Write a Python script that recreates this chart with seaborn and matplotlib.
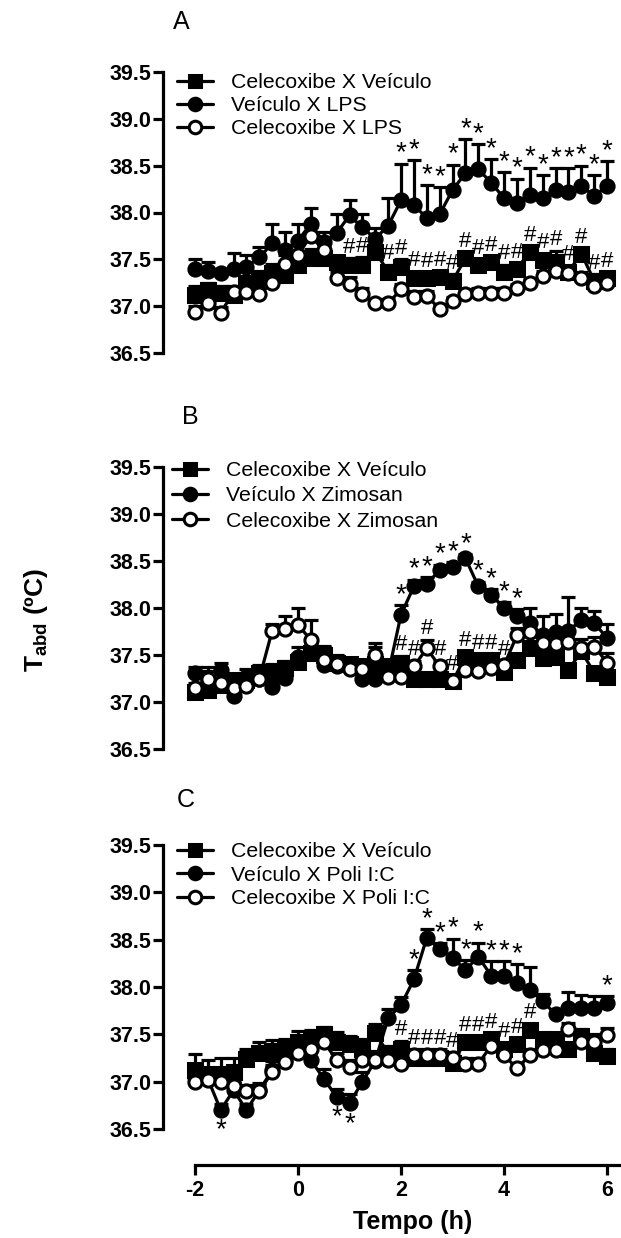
import numpy as np
import matplotlib
matplotlib.use("Agg")
import matplotlib.pyplot as plt
import seaborn as sns

sns.set_style("ticks")
plt.rcParams['font.family'] = ['Liberation Sans', 'DejaVu Sans']
plt.rcParams['mathtext.fontset'] = 'custom'
plt.rcParams['mathtext.bf'] = 'Liberation Sans:bold'
plt.rcParams['mathtext.rm'] = 'Liberation Sans'
for key in ['text.color', 'axes.labelcolor', 'xtick.color', 'ytick.color', 'axes.edgecolor']:
    plt.rcParams[key] = 'black'

# time points (h)
tempo = [-2.0, -1.75, -1.5, -1.25, -1.0, -0.75, -0.5, -0.25, 0.0, 0.25, 0.5, 0.75,
         1.0, 1.25, 1.5, 1.75, 2.0, 2.25, 2.5, 2.75, 3.0, 3.25, 3.5, 3.75,
         4.0, 4.25, 4.5, 4.75, 5.0, 5.25, 5.5, 5.75, 6.0]

# ---------------- Panel A (LPS) ---------------- #
A_sq = [37.12, 37.17, 37.14, 37.12, 37.24, 37.28, 37.35, 37.33, 37.44, 37.51, 37.51, 37.47,
        37.44, 37.44, 37.58, 37.37, 37.42, 37.30, 37.30, 37.31, 37.27, 37.51, 37.44, 37.47,
        37.37, 37.40, 37.58, 37.49, 37.47, 37.37, 37.56, 37.27, 37.30]
A_sq_err = [0.09, 0.08, 0.07, 0.08, 0.08, 0.10, 0.10, 0.08, 0.09, 0.10, 0.08, 0.07,
            0.07, 0.08, 0.10, 0.07, 0.08, 0.07, 0.06, 0.06, 0.07, 0.06, 0.06, 0.06,
            0.07, 0.06, 0.06, 0.07, 0.12, 0.06, 0.06, 0.07, 0.06]
A_fc = [37.40, 37.38, 37.35, 37.40, 37.42, 37.52, 37.67, 37.60, 37.70, 37.88, 37.68, 37.78,
        37.97, 37.84, 37.72, 37.86, 38.13, 38.08, 37.94, 37.98, 38.24, 38.42, 38.46, 38.32,
        38.15, 38.10, 38.19, 38.15, 38.24, 38.22, 38.28, 38.18, 38.28]
A_fc_err = [0.10, 0.09, 0.05, 0.17, 0.13, 0.11, 0.21, 0.19, 0.18, 0.17, 0.11, 0.20,
            0.16, 0.14, 0.11, 0.30, 0.39, 0.48, 0.35, 0.29, 0.27, 0.36, 0.27, 0.25,
            0.28, 0.26, 0.29, 0.25, 0.23, 0.25, 0.22, 0.22, 0.27]
A_oc = [36.94, 37.03, 36.93, 37.15, 37.15, 37.13, 37.25, 37.45, 37.55, 37.75, 37.60, 37.30,
        37.24, 37.13, 37.03, 37.03, 37.18, 37.10, 37.11, 36.97, 37.05, 37.13, 37.14, 37.14,
        37.14, 37.19, 37.25, 37.32, 37.38, 37.35, 37.30, 37.21, 37.25]
A_oc_err = [0.06, 0.05, 0.06, 0.07, 0.06, 0.06, 0.10, 0.10, 0.12, 0.10, 0.10, 0.07,
            0.07, 0.06, 0.05, 0.05, 0.06, 0.06, 0.05, 0.05, 0.05, 0.05, 0.05, 0.05,
            0.05, 0.05, 0.05, 0.06, 0.06, 0.06, 0.06, 0.06, 0.06]
A_star_up = [2.0, 2.25, 2.5, 2.75, 3.0, 3.25, 3.5, 3.75, 4.0, 4.25, 4.5, 4.75,
             5.0, 5.25, 5.5, 5.75, 6.0]
A_star_down = []
A_hash = [1.0, 1.25, 1.75, 2.0, 2.25, 2.5, 2.75, 3.0, 3.25, 3.5, 3.75, 4.0, 4.25,
          4.5, 4.75, 5.0, 5.25, 5.5, 5.75, 6.0]

# ---------------- Panel B (Zimosan) ---------------- #
B_sq = [37.11, 37.13, 37.18, 37.23, 37.23, 37.31, 37.32, 37.36, 37.43, 37.52, 37.50, 37.42,
        37.40, 37.38, 37.40, 37.38, 37.42, 37.25, 37.25, 37.25, 37.22, 37.48, 37.45, 37.45,
        37.32, 37.45, 37.57, 37.47, 37.48, 37.34, 37.54, 37.31, 37.27]
B_sq_err = [0.06, 0.06, 0.07, 0.07, 0.07, 0.08, 0.08, 0.08, 0.08, 0.08, 0.08, 0.07,
            0.07, 0.07, 0.08, 0.07, 0.07, 0.06, 0.06, 0.06, 0.06, 0.06, 0.06, 0.06,
            0.06, 0.06, 0.06, 0.06, 0.06, 0.06, 0.06, 0.06, 0.06]
B_fc = [37.31, 37.22, 37.34, 37.06, 37.27, 37.25, 37.16, 37.26, 37.48, 37.55, 37.39, 37.38,
        37.36, 37.25, 37.25, 37.30, 37.93, 38.23, 38.26, 38.40, 38.44, 38.53, 38.23, 38.14,
        38.00, 37.91, 37.84, 37.71, 37.74, 37.76, 37.87, 37.84, 37.68]
B_fc_err = [0.06, 0.15, 0.08, 0.10, 0.08, 0.08, 0.10, 0.12, 0.10, 0.08, 0.08, 0.07,
            0.07, 0.08, 0.38, 0.10, 0.10, 0.07, 0.07, 0.06, 0.05, 0.04, 0.05, 0.06,
            0.06, 0.08, 0.16, 0.20, 0.20, 0.36, 0.13, 0.13, 0.15]
B_oc = [37.15, 37.25, 37.20, 37.15, 37.17, 37.25, 37.76, 37.78, 37.82, 37.66, 37.45, 37.40,
        37.35, 37.35, 37.50, 37.27, 37.27, 37.38, 37.57, 37.38, 37.22, 37.34, 37.33, 37.36,
        37.39, 37.71, 37.75, 37.63, 37.62, 37.64, 37.57, 37.59, 37.42]
B_oc_err = [0.05, 0.08, 0.06, 0.06, 0.07, 0.08, 0.07, 0.13, 0.18, 0.21, 0.15, 0.10,
            0.08, 0.06, 0.08, 0.06, 0.06, 0.06, 0.09, 0.06, 0.05, 0.05, 0.05, 0.05,
            0.05, 0.08, 0.08, 0.10, 0.10, 0.12, 0.10, 0.10, 0.10]
B_star_up = [2.0, 2.25, 2.5, 2.75, 3.0, 3.25, 3.5, 3.75, 4.0, 4.25]
B_star_down = []
B_hash = [2.0, 2.25, 2.5, 2.75, 3.0, 3.25, 3.5, 3.75, 4.0]

# ---------------- Panel C (Poli I:C) ---------------- #
C_sq = [37.12, 37.08, 37.08, 37.10, 37.24, 37.30, 37.32, 37.35, 37.42, 37.45, 37.50, 37.42,
        37.40, 37.35, 37.51, 37.30, 37.35, 37.25, 37.25, 37.25, 37.20, 37.42, 37.42, 37.45,
        37.35, 37.40, 37.55, 37.45, 37.45, 37.35, 37.48, 37.30, 37.27]
C_sq_err = [0.17, 0.15, 0.17, 0.15, 0.10, 0.12, 0.12, 0.10, 0.12, 0.10, 0.08, 0.10,
            0.08, 0.10, 0.10, 0.08, 0.08, 0.06, 0.06, 0.06, 0.06, 0.06, 0.06, 0.06,
            0.06, 0.06, 0.06, 0.06, 0.06, 0.06, 0.08, 0.08, 0.08]
C_fc = [37.05, 37.03, 36.70, 36.91, 36.70, 36.91, 37.12, 37.23, 37.33, 37.23, 37.03, 36.84,
        36.77, 37.00, 37.22, 37.67, 37.81, 38.08, 38.52, 38.40, 38.31, 38.18, 38.32, 38.12,
        38.12, 38.04, 37.97, 37.85, 37.71, 37.78, 37.78, 37.78, 37.83]
C_fc_err = [0.10, 0.08, 0.06, 0.08, 0.06, 0.08, 0.10, 0.10, 0.12, 0.12, 0.10, 0.08,
            0.10, 0.10, 0.10, 0.10, 0.08, 0.10, 0.09, 0.06, 0.20, 0.10, 0.15, 0.15,
            0.15, 0.20, 0.24, 0.08, 0.05, 0.17, 0.14, 0.12, 0.07]
C_oc = [37.00, 37.02, 37.00, 36.95, 36.90, 36.90, 37.10, 37.21, 37.30, 37.35, 37.42, 37.23,
        37.16, 37.23, 37.23, 37.23, 37.19, 37.28, 37.28, 37.28, 37.25, 37.19, 37.19, 37.38,
        37.28, 37.14, 37.28, 37.33, 37.33, 37.56, 37.42, 37.42, 37.49]
C_oc_err = [0.06, 0.06, 0.06, 0.06, 0.06, 0.06, 0.08, 0.08, 0.08, 0.08, 0.08, 0.07,
            0.07, 0.06, 0.06, 0.06, 0.06, 0.06, 0.06, 0.06, 0.06, 0.06, 0.06, 0.06,
            0.06, 0.06, 0.06, 0.06, 0.06, 0.06, 0.08, 0.08, 0.08]
C_star_up = [2.25, 2.5, 2.75, 3.0, 3.25, 3.5, 3.75, 4.0, 4.25, 6.0]
C_star_down = [-1.5, 0.75, 1.0]
C_hash = [2.0, 2.25, 2.5, 2.75, 3.0, 3.25, 3.5, 3.75, 4.0, 4.25, 4.5]

panels = [
    ("A", "LPS", A_sq, A_sq_err, A_fc, A_fc_err, A_oc, A_oc_err, A_star_up, A_star_down, A_hash),
    ("B", "Zimosan", B_sq, B_sq_err, B_fc, B_fc_err, B_oc, B_oc_err, B_star_up, B_star_down, B_hash),
    ("C", "Poli I:C", C_sq, C_sq_err, C_fc, C_fc_err, C_oc, C_oc_err, C_star_up, C_star_down, C_hash),
]

# ---------------- LAYOUT (pixels of 621x1238 figure) ---------------- #
W, H = 621, 1238
fig = plt.figure(figsize=(W / 100, H / 100), dpi=100)

y_top_px = [72, 467, 845]        # pixel row of 39.5
y_bot_px = [353, 749, 1129]      # pixel row of 36.5
legend_px = [(177, 73), (172, 461), (177, 842)]
legend_sp = [0.2, 0.3, 0.22]
letter_px = [(181, 22), (190, 417), (186, 800)]
YLO, YHI = 36.12, 39.6
XLO, XHI = -2.62, 6.25
left_px, right_px = 163, 620

lw = 2.3
ms = 9.5
tempo_arr = np.array(tempo)

for k, (letter, agent, sq, sq_err, fc, fc_err, oc, oc_err, s_up, s_down, hashes) in enumerate(panels):
    ppu = (y_bot_px[k] - y_top_px[k]) / 3.0
    top = y_top_px[k] - (YHI - 39.5) * ppu
    bot = y_bot_px[k] + (36.5 - YLO) * ppu
    ax = fig.add_axes([left_px / W, 1 - bot / H, (right_px - left_px) / W, (bot - top) / H])

    series = [
        (sq, sq_err, "s", "black", "Celecoxibe X Veículo", 3),
        (fc, fc_err, "o", "black", "Veículo X " + agent, 4),
        (oc, oc_err, "o", "white", "Celecoxibe X " + agent, 5),
    ]
    for vals, err, mk, face, lab, z in series:
        ax.errorbar(tempo, vals, yerr=[np.zeros(len(err)), err], fmt="none",
                    ecolor="black", elinewidth=lw, capsize=5, capthick=lw, zorder=z)
        sns.lineplot(x=tempo, y=vals, ax=ax, color="black", marker=mk, markersize=ms,
                     markerfacecolor=face, markeredgecolor="black", markeredgewidth=2.2,
                     linewidth=lw, label=lab, zorder=z + 0.5, clip_on=False)

    # significance marks
    fc_a, fce_a = np.array(fc), np.array(fc_err)
    sq_a, sqe_a = np.array(sq), np.array(sq_err)
    oc_a, oce_a = np.array(oc), np.array(oc_err)
    for t in s_up:
        i = int(np.argmin(np.abs(tempo_arr - t)))
        ax.text(t, fc_a[i] + fce_a[i] - 0.03, "*", ha="center", va="bottom",
                fontsize=20, zorder=8)
    for t in s_down:
        i = int(np.argmin(np.abs(tempo_arr - t)))
        ax.text(t, fc_a[i] - 0.08, "*", ha="center", va="top", fontsize=20, zorder=8)
    for t in hashes:
        i = int(np.argmin(np.abs(tempo_arr - t)))
        base = max(sq_a[i] + sqe_a[i], oc_a[i] + oce_a[i])
        ax.text(t, base + 0.005, "#", ha="center", va="bottom", fontsize=16, zorder=8)

    ax.set_xlim(XLO, XHI)
    ax.set_ylim(YLO, YHI)
    ax.set_yticks([36.5, 37.0, 37.5, 38.0, 38.5, 39.0, 39.5])
    ax.set_yticklabels(["%.1f" % v for v in [36.5, 37.0, 37.5, 38.0, 38.5, 39.0, 39.5]],
                       fontsize=15.5, fontweight="bold")
    ax.tick_params(axis="y", length=7, width=lw, pad=1.5)
    for s in ["top", "right"]:
        ax.spines[s].set_visible(False)
    ax.spines["left"].set_bounds(36.5, 39.5)
    ax.spines["left"].set_linewidth(lw)
    ax.set_xlabel("")
    ax.set_ylabel("")
    ax.patch.set_alpha(0)

    if k < 2:
        ax.spines["bottom"].set_visible(False)
        ax.set_xticks([])
    else:
        ax.spines["bottom"].set_bounds(-2, XHI)
        ax.spines["bottom"].set_linewidth(lw)
        ax.set_xticks([-2, 0, 2, 4, 6])
        ax.set_xticklabels(["-2", "0", "2", "4", "6"], fontsize=15.5, fontweight="bold")
        ax.tick_params(axis="x", length=7, width=lw, pad=4)

    lx, ly = legend_px[k]
    ax.legend(loc="upper left", bbox_to_anchor=(lx / W, 1 - ly / H),
              bbox_transform=fig.transFigure, frameon=False, fontsize=15.3,
              handlelength=1.7, handletextpad=0.85, labelspacing=legend_sp[k],
              borderpad=0, borderaxespad=0, markerscale=0.95)

    px, py = letter_px[k]
    fig.text(px / W, 1 - py / H, letter, ha="center", va="center", fontsize=18)

fig.text(36 / W, 1 - 620 / H, r"$\mathbf{T_{abd}}$ (ºC)", rotation=90,
         ha="center", va="center", fontsize=19, fontweight="bold")
fig.text(413 / W, 1 - 1222 / H, "Tempo (h)", ha="center", va="center",
         fontsize=18, fontweight="bold")

fig.savefig("out.png", dpi=100)
